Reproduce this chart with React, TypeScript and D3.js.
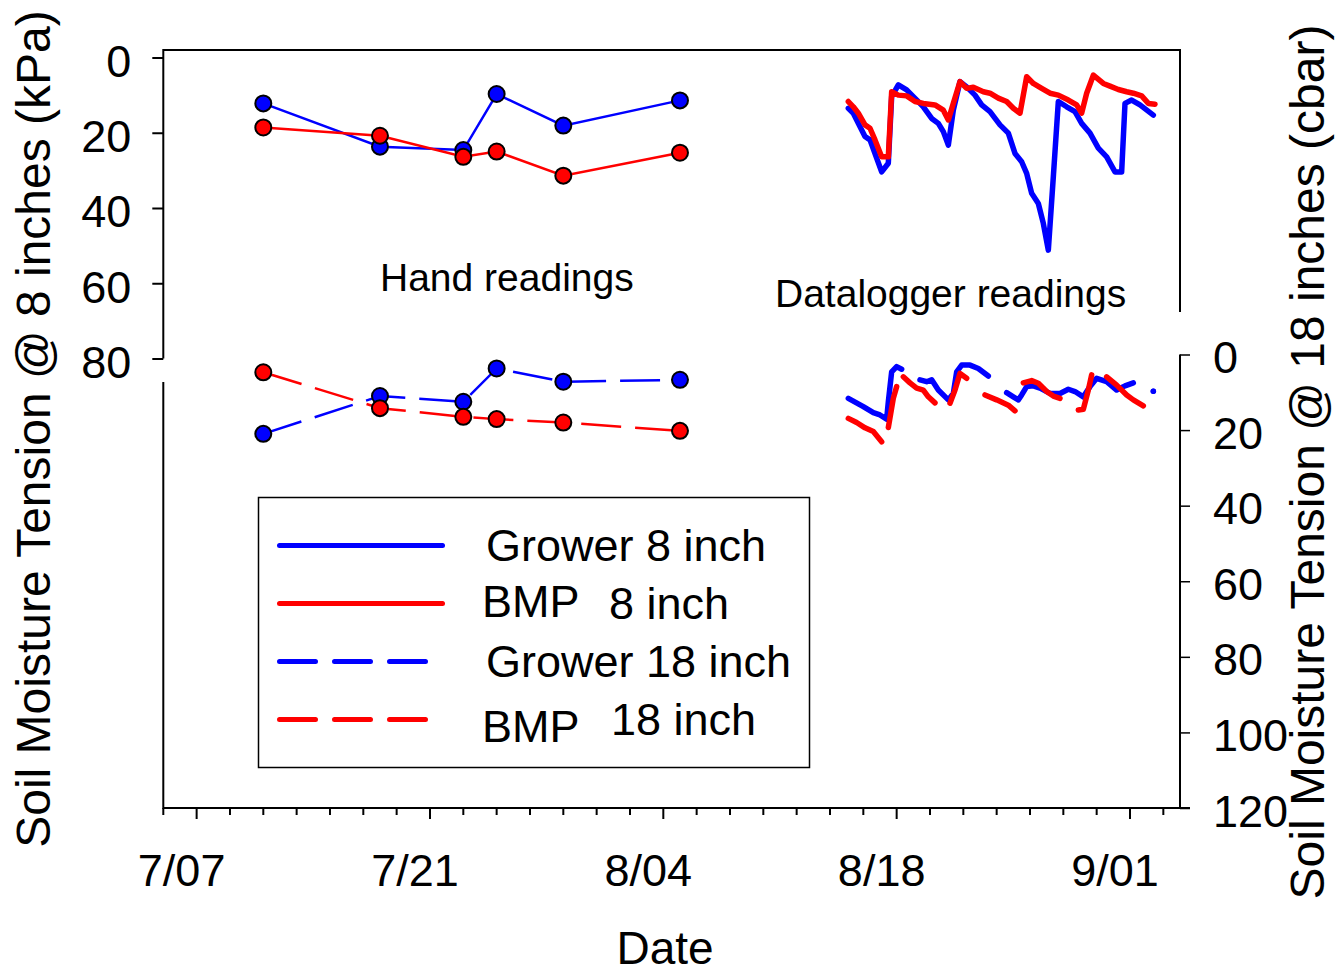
import React, { useRef, useEffect } from "react";
import * as d3 from "d3";

// days counted from 7/07
const handDays = [4, 11, 16, 18, 22, 29];
const grower8Hand = [12.2, 23.7, 24.6, 9.7, 18.1, 11.4];
const bmp8Hand = [18.6, 20.8, 26.4, 25.0, 31.4, 25.3];
const grower18Hand = [21.0, 11.0, 12.5, 3.7, 7.2, 6.7];
const bmp18Hand = [4.7, 14.2, 16.5, 17.1, 18.0, 20.2];

const grower8LogDays = [39.1, 39.4, 39.7, 40.1, 40.4, 40.7, 41.1, 41.5, 41.7, 42.1, 42.6, 43.0, 43.6, 44.1, 44.5, 44.8, 45.1, 45.4, 45.8, 46.2, 46.7, 47.1, 47.6, 48.2, 48.7, 49.1, 49.5, 49.8, 50.1, 50.5, 50.8, 51.1, 51.4, 51.7, 52.2, 52.7, 53.1, 53.6, 54.1, 54.6, 55.1, 55.5, 55.7, 56.1, 56.6, 57.4];
const grower8Log = [13.5, 14.8, 17.5, 21.0, 21.9, 25.5, 30.4, 28.1, 10.4, 7.3, 8.6, 10.4, 13.1, 16.2, 17.5, 19.7, 23.3, 14.0, 6.4, 7.8, 10.0, 12.6, 14.4, 17.9, 20.1, 25.5, 27.7, 30.8, 36.1, 38.8, 44.1, 51.2, 31.7, 11.7, 13.1, 14.4, 17.5, 20.1, 24.1, 26.4, 30.4, 30.4, 12.2, 11.3, 12.6, 15.3];

const bmp8LogDays = [39.1, 39.4, 39.7, 40.1, 40.4, 40.7, 41.1, 41.5, 41.7, 42.1, 42.6, 43.1, 43.6, 44.3, 44.8, 45.1, 45.4, 45.8, 46.2, 46.6, 47.2, 47.6, 48.1, 48.6, 49.0, 49.4, 49.8, 50.2, 50.7, 51.2, 51.7, 52.3, 52.8, 53.1, 53.4, 53.8, 54.4, 54.8, 55.3, 55.8, 56.2, 56.7, 57.1, 57.5];
const bmp8Log = [11.7, 13.1, 14.8, 17.9, 18.8, 21.9, 26.4, 26.4, 9.1, 10.0, 10.2, 11.7, 12.2, 12.6, 14.0, 16.6, 12.2, 6.4, 8.2, 7.9, 9.1, 9.5, 10.8, 11.7, 13.5, 14.8, 5.1, 6.9, 8.2, 9.5, 10.0, 11.3, 12.6, 14.8, 9.5, 4.7, 6.9, 7.6, 8.5, 9.1, 9.5, 10.2, 12.2, 12.4];

// null = break in the logger trace
const grower18LogDays = [39.1, 40.0, 40.6, 41.0, 41.4, 41.5, 41.7, 42.0, 42.3, 42.8, 43.4, 43.8, 44.1, 44.5, 45.1, 45.4, 45.6, 45.9, 46.4, 46.9, 47.5, 48.0, 48.6, 49.0, 49.3, 49.5, 49.8, 50.2, 50.6, 51.2, 51.8, 52.3, 52.7, 53.2, 53.6, 54.0, 54.6, 55.2, 55.7, 56.2, 56.8, 57.4];
const grower18Log = [11.6, 13.8, 15.4, 16.0, 17.1, 12.5, 4.6, 3.2, 3.9, null, 6.7, 7.2, 6.7, 9.4, 12.0, 10.3, 4.6, 2.8, 2.8, 3.7, 5.7, null, 10.1, 11.2, 12.0, 10.7, 8.5, 8.3, 8.9, 10.3, 10.3, 9.2, 9.8, 11.2, 8.5, 6.3, 7.2, 9.4, 8.3, 7.5, null, 9.7];

const bmp18LogDays = [39.1, 39.6, 40.1, 40.6, 41.1, 41.3, 41.5, 41.8, 42.0, 42.2, 42.4, 42.8, 43.2, 43.6, 43.9, 44.3, 44.7, 45.2, 45.5, 45.8, 46.2, 46.7, 47.3, 48.0, 48.7, 49.1, 49.3, 49.6, 50.1, 50.5, 51.0, 51.4, 51.8, 52.3, 52.9, 53.2, 53.5, 53.7, 54.1, 54.6, 55.2, 55.8, 56.2, 56.8];
const bmp18Log = [16.9, 18.0, 19.4, 20.4, 23.1, null, 19.3, 11.6, 8.5, null, 5.9, 7.5, 8.9, 9.4, 11.2, 12.8, null, 12.9, 9.4, 5.0, 6.3, null, 10.7, 12.0, 13.4, 14.9, null, 7.5, 6.9, 7.6, 9.8, 11.0, 11.6, null, 14.7, 14.5, 9.4, 5.4, null, 5.9, 8.1, 10.7, 12.0, 13.6];

const xTickDays = [0, 14, 28, 42, 56];
const xTickLabels = ["7/07", "7/21", "8/04", "8/18", "9/01"];
const leftTicks = [0, 20, 40, 60, 80];
const rightTicks = [0, 20, 40, 60, 80, 100, 120];

const BLUE = "#0000ff";
const RED = "#ff0000";
const FONT = "'Liberation Sans', Arial, Helvetica, sans-serif";

const App = () => {
  const svgRef = useRef(null);

  useEffect(() => {
    if (!svgRef.current) return;
    const svg = d3.select(svgRef.current);
    svg.selectAll("*").remove();

    const x = d3.scaleLinear().domain([-2, 59]).range([163.3, 1180]);
    const yTop = d3.scaleLinear().domain([0, 80]).range([57.5, 358.5]);
    const yBot = d3.scaleLinear().domain([0, 120]).range([354.5, 808]);

    const g = svg.append("g");

    // frame pieces
    const frame = g.append("g").attr("fill", "none").attr("stroke", "#000").attr("stroke-width", 2);
    frame.append("path").attr("d", `M${x(-2)},${yTop(80)}V${yTop(-2)}H${x(59)}V312`);
    frame.append("path").attr("d", `M${x(-2)},382V${yBot(120)}H1190`);
    frame.append("path").attr("d", `M${x(59)},${yBot(0)}V${yBot(120)}`);

    // left axis
    const leftAxis = g.append("g")
      .attr("transform", "translate(" + x(-2) + ",0)")
      .call(d3.axisLeft(yTop).tickValues(leftTicks).tickSize(11).tickSizeOuter(0).tickPadding(21));
    leftAxis.select(".domain").remove();
    leftAxis.selectAll("line").attr("stroke-width", 2);
    leftAxis.selectAll("text").attr("font-size", 45).attr("font-family", FONT).attr("dy", "0.42em").attr("fill", "#000");

    // right axis
    const rightAxis = g.append("g")
      .attr("transform", "translate(" + x(59) + ",0)")
      .call(d3.axisRight(yBot).tickValues(rightTicks).tickSize(10).tickSizeOuter(0).tickPadding(23));
    rightAxis.select(".domain").remove();
    rightAxis.selectAll("line").attr("stroke-width", 1.5);
    rightAxis.selectAll("text").attr("font-size", 45).attr("font-family", FONT).attr("dy", "0.40em").attr("fill", "#000");

    // bottom ticks, every 2 days
    const minor = d3.range(-2, 59, 2);
    g.append("g").selectAll("line")
      .data(minor)
      .enter().append("line")
      .attr("x1", d => x(d)).attr("x2", d => x(d))
      .attr("y1", yBot(120))
      .attr("y2", d => yBot(120) + (xTickDays.includes(d) ? 11 : 7))
      .attr("stroke", "#000").attr("stroke-width", 2);
    g.append("g").selectAll("text")
      .data(xTickDays)
      .enter().append("text")
      .attr("x", d => x(d) - 15)
      .attr("y", 886)
      .attr("text-anchor", "middle")
      .attr("font-size", 45).attr("font-family", FONT)
      .text((d, i) => xTickLabels[i]);

    // axis titles
    g.append("text")
      .attr("transform", "translate(50,429) rotate(-90)")
      .attr("text-anchor", "middle").attr("font-size", 48).attr("font-family", FONT)
      .text("Soil Moisture Tension @ 8 inches (kPa)");
    g.append("text")
      .attr("transform", "translate(1324,462) rotate(-90)")
      .attr("text-anchor", "middle").attr("font-size", 48).attr("font-family", FONT)
      .text("Soil Moisture Tension @ 18 inches (cbar)");
    g.append("text")
      .attr("x", 665).attr("y", 964)
      .attr("text-anchor", "middle").attr("font-size", 46).attr("font-family", FONT)
      .text("Date");

    g.append("text").attr("x", 380).attr("y", 291).attr("font-size", 39).attr("font-family", FONT).text("Hand readings");
    g.append("text").attr("x", 775).attr("y", 307).attr("font-size", 39).attr("font-family", FONT).text("Datalogger readings");

    // datalogger traces
    const logSeries = [
      { days: grower8LogDays, vals: grower8Log, y: yTop, color: BLUE },
      { days: bmp8LogDays, vals: bmp8Log, y: yTop, color: RED },
      { days: grower18LogDays, vals: grower18Log, y: yBot, color: BLUE },
      { days: bmp18LogDays, vals: bmp18Log, y: yBot, color: RED },
    ];
    logSeries.forEach(s => {
      const pts = s.days.map((d, i) => [d, s.vals[i]]);
      const line = d3.line()
        .defined(p => p[1] !== null)
        .x(p => x(p[0]))
        .y(p => s.y(p[1]));
      g.append("path")
        .attr("d", line(pts))
        .attr("fill", "none")
        .attr("stroke", s.color)
        .attr("stroke-width", 5.5)
        .attr("stroke-linecap", "round")
        .attr("stroke-linejoin", "round");
      // lone readings between breaks
      pts.forEach((p, i) => {
        const prev = pts[i - 1], next = pts[i + 1];
        if (p[1] !== null && (!prev || prev[1] === null) && (!next || next[1] === null)) {
          g.append("circle").attr("cx", x(p[0])).attr("cy", s.y(p[1])).attr("r", 2.75).attr("fill", s.color);
        }
      });
    });

    // hand readings
    const handSeries = [
      { vals: grower8Hand, y: yTop, color: BLUE, dash: null },
      { vals: bmp8Hand, y: yTop, color: RED, dash: null },
      { vals: grower18Hand, y: yBot, color: BLUE, dash: "40,14" },
      { vals: bmp18Hand, y: yBot, color: RED, dash: "40,14" },
    ];
    handSeries.forEach(s => {
      const line = d3.line()
        .x((d, i) => x(handDays[i]))
        .y(d => s.y(d));
      g.append("path")
        .attr("d", line(s.vals))
        .attr("fill", "none")
        .attr("stroke", s.color)
        .attr("stroke-width", 2.5)
        .attr("stroke-dasharray", s.dash);
      g.append("g").selectAll("circle")
        .data(s.vals)
        .enter().append("circle")
        .attr("cx", (d, i) => x(handDays[i]))
        .attr("cy", d => s.y(d))
        .attr("r", 8)
        .attr("fill", s.color)
        .attr("stroke", "#000")
        .attr("stroke-width", 2);
    });

    // legend
    const legend = g.append("g");
    legend.append("rect")
      .attr("x", 258.5).attr("y", 497.5).attr("width", 551).attr("height", 270)
      .attr("fill", "#fff").attr("stroke", "#000").attr("stroke-width", 1.5);
    const items = [
      { color: BLUE, dash: null, y: 545.5 },
      { color: RED, dash: null, y: 603.5 },
      { color: BLUE, dash: "36,19", y: 661.5 },
      { color: RED, dash: "36,19", y: 719.5 },
    ];
    items.forEach(it => {
      legend.append("line")
        .attr("x1", 279.5).attr("x2", it.dash ? 425.5 : 442.5)
        .attr("y1", it.y).attr("y2", it.y)
        .attr("stroke", it.color).attr("stroke-width", 5)
        .attr("stroke-linecap", "round")
        .attr("stroke-dasharray", it.dash);
    });
    const legendText = [
      { x: 486, y: 561, t: "Grower 8 inch" },
      { x: 482, y: 617, t: "BMP" },
      { x: 609, y: 619, t: "8 inch" },
      { x: 486, y: 677, t: "Grower 18 inch" },
      { x: 482, y: 742, t: "BMP" },
      { x: 611, y: 735, t: "18 inch" },
    ];
    legend.selectAll("text")
      .data(legendText)
      .enter().append("text")
      .attr("x", d => d.x).attr("y", d => d.y)
      .attr("font-size", 45).attr("font-family", FONT)
      .text(d => d.t);
  }, []);

  return (
    <svg
      ref={svgRef}
      width={1335}
      height={977}
      style={{ position: "absolute", left: 0, top: 0, background: "#fff" }}
    ></svg>
  );
};

export default App;
